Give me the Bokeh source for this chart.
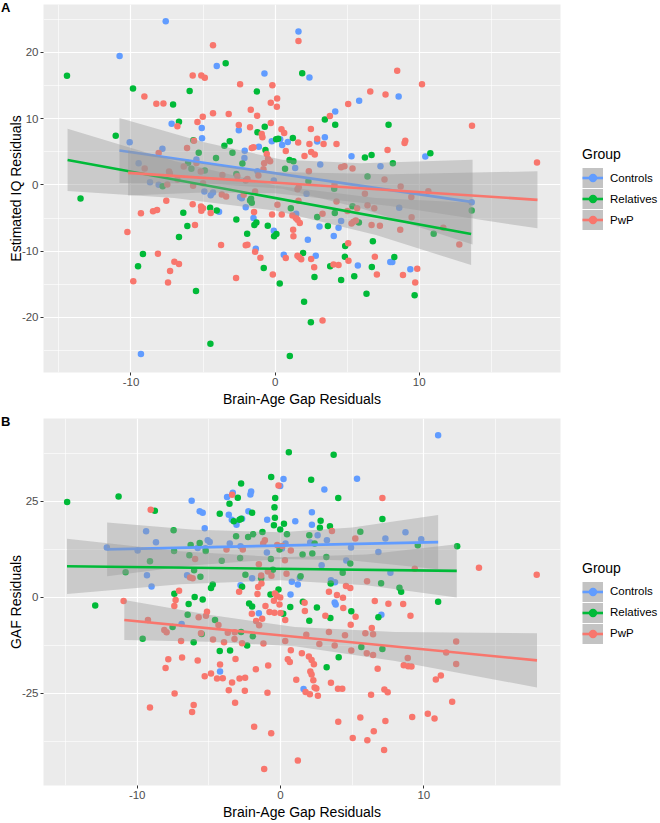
from bokeh.plotting import figure
from bokeh.models import Range1d, FixedTicker, Legend, LegendItem, Div
from bokeh.layouts import column, row
from bokeh.embed import file_html
from bokeh.resources import INLINE

FONT = "Liberation Sans"
GROUPS = ["Controls", "Relatives", "PwP"]
COLORS = ["#619CFF", "#00BA38", "#F8766D"]

X_TICKS = [-10, 0, 10]
X_MINOR = [-15, -5, 5, 15]
A_Y_TICKS = [-20, -10, 0, 10, 20]
A_Y_MINOR = [-25, -15, -5, 5, 15, 25]
B_Y_TICKS = [-25, 0, 25]
B_Y_MINOR = [-37.5, -12.5, 12.5, 37.5]

# ---------------- Panel A: Estimated IQ residuals ----------------
A_CONTROLS = [(-4.05,17.94),(-0.74,16.79),(2.38,16.19),(5.83,12.68),(4.17,11.08),(-7.18,9.22),(-5.09,8.57),(-2.52,8.22),(-5.07,7.02),(-0.23,6.57),(0.35,6.87),(0.88,6.47),(2.92,6.52),(3.45,7.17),(0.49,6.02),(-1.13,5.76),(-7.82,5.46),(-2.11,5.16),(5.30,4.31),(-2.13,4.06),(-5.46,3.81),(3.13,3.06),(7.31,2.81),(1.39,2.56),(-1.23,2.06),(-0.09,0.65),(-4.91,-1.00),(-4.47,-1.55),(-4.31,-1.15),(-2.43,-1.85),(-2.31,-2.01),(2.18,-1.35),(-3.89,-4.06),(-2.04,-3.36),(1.46,-4.36),(-1.50,-5.01),(3.08,-6.27),(4.40,-6.47),(4.58,-5.46),(-0.09,-6.92),(4.07,-7.72),(2.27,-8.27),(-1.34,-9.62),(0.60,-10.53),(2.82,-10.68),(5.74,-12.18),(7.99,-11.63),(-7.59,24.66),(-10.79,19.45),(1.62,23.11),(-10.09,6.42),(-9.47,3.26),(-8.68,0.40),(-8.08,0.00),(-9.31,-25.52),(8.57,13.33),(10.42,4.26),(13.64,-2.61),(8.61,-3.46),(8.13,-11.63),(9.38,-12.74)]
A_RELATIVES = [(-3.43,18.35),(1.88,16.84),(-5.93,14.14),(-1.27,14.09),(-7.08,12.13),(3.45,9.87),(-6.67,9.52),(7.87,9.07),(4.17,9.07),(-0.72,8.77),(-1.23,7.92),(1.23,7.07),(0.07,6.87),(0.21,6.97),(-5.67,6.72),(-3.15,6.57),(-3.52,5.91),(-0.67,5.26),(-5.30,4.86),(-2.96,4.86),(6.23,4.11),(6.69,4.51),(1.00,3.76),(1.27,3.56),(-4.10,4.06),(-6.04,3.31),(0.69,2.41),(-5.81,2.41),(-2.27,3.21),(-4.88,2.16),(-2.69,1.65),(6.41,1.25),(2.31,0.55),(-7.80,-0.20),(-1.74,-2.36),(-1.62,-2.71),(-1.67,-2.11),(4.10,-0.60),(-4.51,-3.46),(-4.05,-3.86),(1.09,-3.51),(5.37,-3.21),(-6.37,-4.21),(2.92,-4.86),(4.14,-4.26),(5.81,-5.66),(-1.30,-5.66),(-1.44,-6.07),(-2.69,-5.21),(-6.09,-6.22),(-0.51,-6.17),(3.66,-6.22),(0.09,-7.42),(-0.07,-7.77),(-6.67,-7.87),(-1.94,-7.37),(6.78,-8.52),(4.86,-9.22),(1.94,-10.28),(4.84,-10.83),(3.82,-12.28),(6.71,-12.38),(-0.79,-12.53),(2.73,-13.88),(5.49,-13.78),(4.58,-14.34),(0.32,-14.89),(-5.49,-15.99),(6.34,-16.44),(2.01,-17.64),(-14.44,16.44),(-9.86,14.54),(-11.06,7.42),(-13.50,-2.06),(-9.17,-10.43),(-9.51,-12.29),(-4.49,-23.96),(1.02,-25.82),(8.17,3.26),(10.77,4.76),(13.64,-3.87),(11.00,-7.37),(8.27,-10.88),(9.68,-16.65),(2.48,-20.71)]
A_PWP = [(-5.72,16.49),(-5.12,16.49),(-4.88,16.14),(-2.43,15.19),(-0.19,15.04),(6.60,14.09),(7.66,13.63),(0.14,13.03),(-7.75,12.28),(-0.30,12.38),(0.12,11.78),(5.07,12.18),(-1.69,11.33),(3.80,10.38),(-4.31,10.78),(-3.22,10.68),(-5.02,10.28),(-1.25,10.43),(-5.39,9.47),(-6.78,8.82),(-0.30,9.32),(-2.52,9.02),(-1.74,8.67),(0.44,8.37),(0.63,7.82),(2.48,8.42),(-0.93,7.67),(-0.88,7.17),(2.92,6.97),(1.60,6.37),(2.38,6.17),(3.36,6.17),(4.26,6.17),(-5.63,6.67),(-1.50,5.66),(-1.62,5.56),(-6.11,5.56),(0.74,5.11),(2.50,4.96),(2.75,4.56),(7.80,5.26),(-0.58,4.66),(2.04,4.36),(-0.49,3.91),(-0.35,3.56),(-5.46,3.31),(-0.76,3.26),(4.58,2.66),(4.81,2.81),(5.37,2.46),(2.34,2.06),(-0.81,2.36),(-6.34,2.76),(-7.36,2.01),(-3.66,1.50),(-5.16,2.01),(-2.62,1.30),(7.59,0.80),(-1.92,0.90),(-2.04,0.65),(-1.16,1.40),(-6.78,0.80),(-7.31,1.75),(-7.48,0.05),(-5.69,-0.15),(-5.00,0.25),(-3.70,-1.45),(-3.40,-1.75),(-2.18,-1.50),(0.16,-3.01),(-1.39,-1.00),(1.64,-0.35),(1.55,-0.65),(4.12,0.05),(6.23,-1.35),(-7.55,-2.41),(-5.72,-2.91),(-5.14,-3.26),(-5.00,-3.51),(-5.12,-3.91),(-4.47,-4.26),(-1.46,-4.11),(1.62,-2.41),(4.26,-2.51),(5.69,-3.51),(6.41,-3.06),(6.88,-3.51),(-0.21,-4.46),(0.46,-4.46),(1.20,-4.61),(1.44,-5.01),(1.55,-5.26),(1.71,-5.76),(3.29,-4.36),(5.02,-3.96),(5.30,-5.81),(5.44,-5.56),(5.60,-5.36),(6.69,-6.07),(7.27,-6.17),(-5.56,-6.07),(1.25,-6.77),(1.27,-7.77),(-3.75,-9.07),(-1.92,-9.02),(-2.04,-9.12),(5.07,-8.82),(-1.39,-10.08),(0.74,-11.03),(1.55,-10.68),(1.67,-10.93),(1.81,-11.23),(2.50,-11.18),(5.09,-11.43),(6.92,-10.83),(-1.02,-10.98),(-6.99,-11.58),(-6.67,-11.93),(4.05,-12.03),(4.40,-12.08),(2.71,-12.43),(-7.29,-12.98),(-0.16,-13.53),(7.06,-13.53),(-2.71,-14.04),(-7.43,-14.74),(-4.31,21.05),(1.62,21.70),(-9.07,13.33),(-8.24,12.23),(-8.08,4.81),(-9.05,2.46),(-9.31,-4.27),(-8.47,-3.97),(-8.19,-3.81),(-10.25,-7.12),(-8.13,-10.38),(-9.84,-14.54),(8.47,17.19),(10.19,15.19),(13.66,8.92),(18.17,3.36),(9.03,6.67),(8.98,6.32),(8.71,-0.25),(10.63,-0.95),(9.45,-1.85),(9.47,-4.87),(8.68,-6.77),(11.67,-6.47),(12.78,-8.98),(9.86,-12.64),(8.87,-13.59),(9.72,-14.74),(3.29,-20.46)]

A_FIT_X = {"Controls": [-10.8, 13.7], "Relatives": [-14.4, 13.6], "PwP": [-10.2, 18.2]}
A_FIT_Y = {"Controls": [5.19, -2.60], "Relatives": [3.76, -7.40], "PwP": [1.80, -2.26]}
A_BAND_X = {"Controls": [-10.8, -5, 0.5, 6, 13.7], "Relatives": [-14.4, -7, 0, 7, 13.6], "PwP": [-10.2, -5, 0, 8, 18.2]}
A_BAND_LO = {"Controls": [0.29, 0.25, -0.60, -3.55, -9.0], "Relatives": [-0.94, -1.99, -3.88, -7.57, -12.1], "PwP": [-1.60, -1.14, -1.26, -3.20, -6.56]}
A_BAND_HI = {"Controls": [10.09, 6.45, 3.80, 3.25, 3.8], "Relatives": [8.46, 3.61, -0.08, -1.97, -2.7], "PwP": [5.20, 3.26, 1.94, 1.60, 2.04]}

# ---------------- Panel B: GAF residuals ----------------
B_CONTROLS = [(0.21,30.81),(-0.02,28.99),(5.34,30.90),(3.06,28.13),(-3.73,26.14),(-3.33,27.26),(-2.05,27.61),(-2.10,26.83),(-6.20,25.19),(-5.64,22.42),(-5.43,22.07),(-2.24,22.42),(-3.61,21.55),(2.19,22.16),(-3.40,20.25),(-3.07,18.95),(-2.68,20.51),(-0.93,20.25),(1.03,19.82),(2.19,18.95),(-5.29,18.00),(2.59,16.18),(3.24,14.88),(7.32,15.31),(-5.08,14.88),(-4.94,14.45),(-3.54,14.02),(0.35,14.02),(2.07,14.28),(-2.79,13.32),(-5.78,12.89),(-5.24,12.81),(4.92,12.98),(6.83,11.85),(0.10,12.72),(-0.95,11.68),(4.59,9.60),(2.87,8.39),(-6.52,5.80),(7.67,6.40),(-1.98,5.01),(1.35,5.10),(0.79,4.06),(1.21,3.37),(3.52,4.49),(3.80,3.97),(-2.79,3.19),(0.70,0.77),(3.78,-1.30),(3.85,-1.82),(-1.51,-4.16),(7.04,-4.51),(-4.22,-19.30),(1.61,-23.89),(-6.90,-6.94),(-9.38,17.22),(-8.69,14.36),(-9.32,5.79),(-9.00,2.85),(-12.12,12.98),(-9.97,12.19),(11.00,42.24),(8.72,16.96),(9.82,15.15)]
B_RELATIVES = [(-0.65,31.34),(2.14,30.64),(-2.75,29.69),(-2.98,25.97),(-0.37,25.88),(4.03,25.88),(-3.56,24.41),(-0.42,23.45),(-1.98,22.07),(-4.24,21.81),(7.11,20.42),(-3.26,19.82),(-2.75,20.51),(-2.86,20.25),(-0.39,20.77),(2.80,19.99),(0.24,19.21),(-0.46,18.78),(-0.02,17.66),(2.75,18.17),(3.45,18.52),(-7.46,17.48),(-1.26,17.05),(0.45,16.44),(5.57,17.13),(-1.91,16.44),(-3.10,15.92),(-2.26,15.75),(2.01,16.18),(2.38,14.02),(-6.27,13.67),(-5.64,14.19),(-7.43,12.11),(-5.22,12.11),(-0.07,12.46),(1.54,11.16),(2.22,11.42),(-6.36,10.99),(-2.82,10.29),(-0.67,10.03),(3.20,10.55),(-4.10,9.52),(4.87,8.82),(-6.03,7.09),(-0.53,7.18),(-2.45,5.88),(-5.59,5.36),(4.34,6.40),(-1.35,5.01),(1.40,5.53),(3.50,3.63),(7.02,3.71),(-4.73,3.37),(-4.85,2.42),(-2.68,2.76),(-0.14,2.07),(-7.41,0.94),(-0.70,0.77),(-5.99,0.08),(-5.43,-0.53),(-2.19,-1.56),(-1.98,-2.34),(0.68,-2.52),(1.56,-1.13),(2.54,-2.61),(-6.41,-1.74),(4.94,-3.64),(-6.48,-4.50),(0.19,-4.25),(2.01,-6.06),(3.48,-5.38),(6.83,-5.20),(-4.57,-5.90),(-7.53,-7.71),(-5.50,-9.52),(-2.75,-9.01),(-6.06,-11.70),(-2.33,-12.56),(-1.93,-10.14),(5.64,-12.91),(7.11,-13.43),(-4.24,-13.94),(-3.52,-13.86),(4.06,-15.58),(3.22,-18.18),(-14.89,24.85),(-11.30,26.30),(-8.77,22.60),(-9.11,9.43),(-10.81,6.57),(-12.93,-2.09),(0.58,37.81),(3.71,37.13),(9.58,13.59),(12.33,13.33),(8.30,2.50),(8.42,1.46),(11.00,-1.12),(-9.62,-10.75)]
B_PWP = [(-0.14,29.17),(-3.38,26.74),(7.11,25.88),(3.59,17.31),(5.22,15.31),(-1.09,14.88),(-1.21,14.02),(-0.23,13.67),(0.12,13.41),(-3.77,12.46),(-2.63,12.46),(0.72,12.20),(-5.96,10.03),(0.31,9.69),(-1.51,8.65),(-0.88,6.74),(-0.63,5.62),(0.42,6.14),(-6.31,5.19),(-6.13,5.01),(-1.35,5.71),(6.04,4.23),(-1.33,3.63),(-1.56,2.68),(4.57,2.94),(4.87,2.42),(-2.89,1.46),(-7.08,1.72),(-1.61,0.86),(-0.39,1.03),(-0.25,0.34),(-0.02,-0.01),(3.38,1.46),(3.94,0.60),(4.36,-0.10),(6.58,-0.96),(7.53,-1.65),(-7.32,-0.70),(-1.05,-2.26),(-0.46,-0.88),(-0.07,-1.83),(1.68,-1.39),(4.38,-2.78),(-7.41,-2.26),(1.70,-3.56),(-5.13,-3.73),(-5.20,-4.76),(-5.71,-5.19),(-2.00,-4.25),(-0.77,-3.82),(-0.42,-3.99),(0.00,-4.08),(-1.28,-5.55),(-1.70,-6.16),(-1.49,-7.28),(0.33,-5.90),(3.13,-4.77),(5.24,-5.02),(4.90,-7.11),(6.37,-7.97),(6.46,-9.61),(-4.33,-7.19),(-8.11,-8.49),(-7.95,-9.10),(-5.55,-9.36),(-3.68,-9.19),(-3.19,-9.10),(1.80,-9.71),(3.38,-9.01),(4.50,-9.88),(5.92,-9.36),(-6.94,-11.35),(-4.71,-11.00),(-3.94,-11.70),(-3.21,-10.83),(-2.68,-11.96),(-1.19,-12.04),(0.33,-11.35),(2.71,-12.13),(3.78,-12.56),(4.94,-13.86),(6.02,-14.55),(6.46,-14.99),(-7.83,-16.11),(-6.87,-15.68),(-5.78,-16.46),(-3.14,-16.02),(0.72,-13.77),(0.51,-16.11),(0.65,-16.80),(1.49,-14.55),(1.98,-15.42),(2.17,-16.28),(2.33,-17.41),(-4.22,-17.50),(-8.02,-18.36),(-0.86,-17.76),(-1.72,-18.71),(6.78,-18.61),(-5.29,-20.52),(-4.85,-19.82),(-4.43,-21.12),(-4.03,-21.04),(-2.86,-21.12),(-2.47,-20.95),(2.08,-19.31),(2.17,-20.09),(2.29,-21.56),(1.10,-21.48),(3.52,-22.25),(-3.38,-22.17),(-3.61,-24.16),(-7.39,-25.03),(-2.49,-24.33),(-0.91,-24.84),(1.75,-24.67),(2.05,-25.20),(2.38,-23.47),(2.50,-23.72),(2.61,-25.63),(4.01,-23.81),(4.31,-23.81),(6.32,-25.37),(7.25,-23.98),(7.48,-24.68),(-6.06,-28.06),(-3.17,-27.46),(-9.06,22.85),(-10.95,-0.97),(-9.25,-5.90),(-9.11,-28.67),(-6.17,-29.88),(-1.84,-33.69),(-0.65,-35.42),(-1.14,-44.68),(1.21,-42.52),(9.37,7.44),(13.85,7.70),(17.88,5.88),(8.56,-1.72),(9.07,-4.77),(8.88,-15.77),(8.60,-17.67),(8.91,-17.93),(9.14,-18.02),(12.26,-11.52),(11.56,-14.38),(12.26,-17.33),(11.19,-20.35),(10.84,-21.39),(11.98,-27.19),(9.19,-31.18),(10.28,-30.31),(10.75,-31.52),(5.57,-31.26),(4.03,-32.39),(7.32,-32.22),(5.04,-36.63),(6.51,-34.90),(6.06,-37.24),(7.23,-39.75)]

B_FIT_X = {"Controls": [-12.1, 11.0], "Relatives": [-14.9, 12.3], "PwP": [-10.9, 17.9]}
B_FIT_Y = {"Controls": [12.5, 14.4], "Relatives": [8.1, 6.9], "PwP": [-5.9, -16.4]}
B_BAND_X = {"Controls": [-12.1, -6, 0, 5, 11.0], "Relatives": [-14.9, -7, 0, 6, 12.3], "PwP": [-10.9, -5, 1, 8, 17.9]}
B_BAND_LO = {"Controls": [5.5, 8.4, 10.0, 9.61, 7.35], "Relatives": [0.9, 3.45, 4.44, 3.18, -0.05], "PwP": [-11.1, -11.55, -12.73, -16.59, -23.45]}
B_BAND_HI = {"Controls": [19.5, 17.6, 17.0, 18.21, 21.45], "Relatives": [15.3, 12.05, 10.44, 11.18, 13.85], "PwP": [-0.7, -4.55, -7.73, -8.99, -9.35]}

PW, LW = 564, 96          # plot figure width, legend figure width (sum 660)
LEFT, RIGHT, BOTTOM = 43, 4, 36
NAN = float("nan")


def panel(groups_pts, fit_x, fit_y, band_x, band_lo, band_hi, xr, yr,
          yticks, yminor, ylabel, height, top):
    p = figure(width=PW, height=height, x_range=Range1d(*xr), y_range=Range1d(*yr),
               output_backend="svg", toolbar_location=None,
               min_border_left=LEFT, min_border_right=RIGHT,
               min_border_top=top, min_border_bottom=BOTTOM,
               background_fill_color="#EBEBEB", border_fill_color="white",
               outline_line_color=None)

    p.xaxis.ticker = FixedTicker(ticks=X_TICKS, minor_ticks=X_MINOR)
    p.yaxis.ticker = FixedTicker(ticks=yticks, minor_ticks=yminor)
    p.xaxis.major_label_overrides = {t: str(t) for t in X_TICKS}
    p.yaxis.major_label_overrides = {t: str(t) for t in yticks}
    for ax in (p.xaxis[0], p.yaxis[0]):
        ax.axis_line_color = None
        ax.major_tick_line_color = "#333333"
        ax.major_tick_out = 3
        ax.major_tick_in = 0
        ax.minor_tick_out = 0
        ax.minor_tick_in = 0
        ax.minor_tick_line_color = None
        ax.major_label_text_color = "#4D4D4D"
        ax.major_label_text_font = FONT
        ax.major_label_text_font_size = "11.5px"
        ax.major_label_standoff = 2
        ax.axis_label_text_font = FONT
        ax.axis_label_text_font_size = "14px"
        ax.axis_label_text_font_style = "normal"
        ax.axis_label_text_color = "black"
        ax.axis_label_standoff = 2
    p.yaxis.axis_label_standoff = -5
    p.xaxis.axis_label = "Brain-Age Gap Residuals"
    p.yaxis.axis_label = ylabel
    for g in (p.xgrid[0], p.ygrid[0]):
        g.grid_line_color = "white"
        g.grid_line_width = 1.2
        g.minor_grid_line_color = "white"
        g.minor_grid_line_width = 0.6

    for name, color in zip(GROUPS, COLORS):
        pts = groups_pts[name]
        p.scatter([q[0] for q in pts], [q[1] for q in pts], size=6.5,
                  fill_color=color, line_color=None)
    for name, color in zip(GROUPS, COLORS):
        p.varea(x=band_x[name], y1=band_lo[name], y2=band_hi[name],
                fill_color="#999999", fill_alpha=0.4)
        p.line(fit_x[name], fit_y[name], line_color=color, line_width=2.6)
    return p


def legend_panel(height, top):
    lf = figure(width=LW, height=height, x_range=Range1d(0, 1), y_range=Range1d(0, 1),
                x_axis_type=None, y_axis_type=None, output_backend="svg",
                toolbar_location=None, min_border_left=0, min_border_right=0,
                min_border_top=top, min_border_bottom=BOTTOM, outline_line_color=None,
                background_fill_color="white", border_fill_color="white")
    items = []
    for name, color in zip(GROUPS, COLORS):
        # legend-key swatches only (NaN data: nothing is drawn in the plot area)
        bg = lf.line(x=[NAN, NAN], y=[NAN, NAN], line_color="#C3C3C3",
                     line_width=20, line_cap="butt")
        ln = lf.line(x=[NAN, NAN], y=[NAN, NAN], line_color=color, line_width=2.6)
        pt = lf.scatter(x=[NAN], y=[NAN], size=6.5, fill_color=color, line_color=None)
        items.append(LegendItem(label=name, renderers=[bg, ln, pt]))
    legend = Legend(items=items, title="Group", location="left",
                    title_text_font=FONT, title_text_font_size="14px",
                    title_text_font_style="normal", title_text_color="black",
                    title_standoff=5,
                    label_text_font=FONT, label_text_font_size="11.5px",
                    label_text_color="black",
                    glyph_width=21, glyph_height=21, label_height=21,
                    spacing=0, padding=0, margin=18, label_standoff=7,
                    background_fill_alpha=0, border_line_color=None)
    lf.add_layout(legend)
    return lf


def tag(text, top):
    return Div(text=text, styles={"position": "absolute", "left": "1px", "top": f"{top}px",
                                  "font-family": FONT, "font-size": "13px",
                                  "font-weight": "bold", "color": "black",
                                  "line-height": "14px", "margin": "0", "padding": "0"})


HA, TA = 409, 4
HB, TB = 413, 9
pA = panel({"Controls": A_CONTROLS, "Relatives": A_RELATIVES, "PwP": A_PWP},
           A_FIT_X, A_FIT_Y, A_BAND_X, A_BAND_LO, A_BAND_HI,
           (-16.07, 19.8), (-28.3, 27.2), A_Y_TICKS, A_Y_MINOR,
           "Estimated IQ Residuals", HA, TA)
pB = panel({"Controls": B_CONTROLS, "Relatives": B_RELATIVES, "PwP": B_PWP},
           B_FIT_X, B_FIT_Y, B_BAND_X, B_BAND_LO, B_BAND_HI,
           (-16.54, 19.54), (-49.0, 46.6), B_Y_TICKS, B_Y_MINOR,
           "GAF Residuals", HB, TB)

layout = column(row(pA, legend_panel(HA, TA), spacing=0),
                row(pB, legend_panel(HB, TB), spacing=0),
                tag("A", 1), tag("B", 415), spacing=0)
open("out.html", "w").write(file_html(layout, INLINE))
